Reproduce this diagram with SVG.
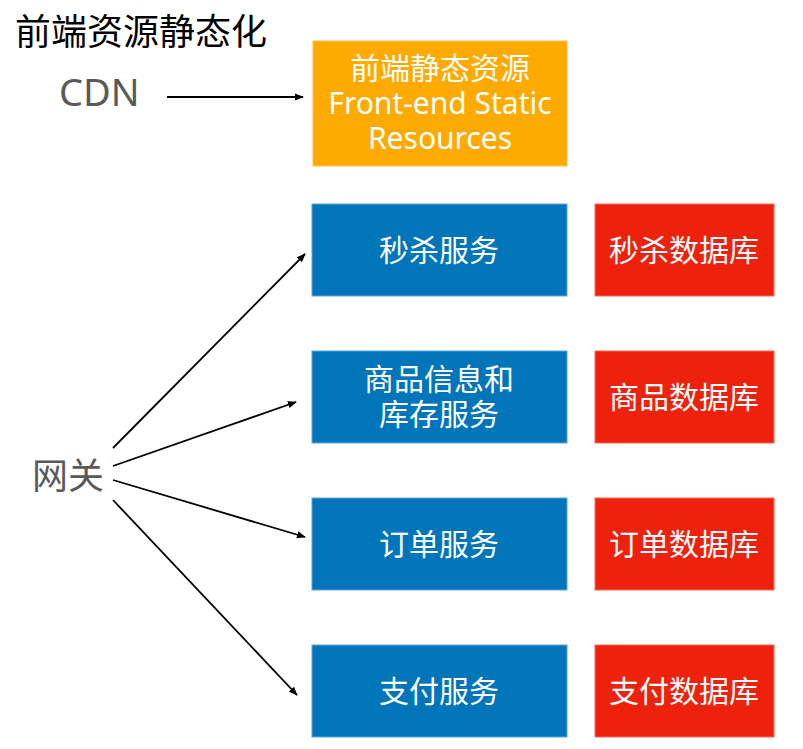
<svg xmlns="http://www.w3.org/2000/svg" width="803" height="749" viewBox="0 0 803 749">
<defs>
<style>
.lbl{font-family:"Noto Sans","Noto Sans CJK SC",sans-serif;}
.box{font-family:"Noto Sans","Noto Sans CJK SC",sans-serif;font-size:30px;fill:#fff;text-anchor:middle;}
.svc{fill:#0075B9;stroke:#5FA8D8;stroke-width:1;}
.db{fill:#EE220C;stroke:#F26A5A;stroke-width:1;}
.conn{stroke:#000;stroke-width:1.8;fill:none;marker-end:url(#ah);}
</style>
<marker id="ah" viewBox="0 0 10 10" refX="9" refY="5" markerWidth="5" markerHeight="5" orient="auto" markerUnits="strokeWidth">
<path d="M0,1 L10,5 L0,9 z" fill="#000"/>
</marker>
</defs>
<rect width="803" height="749" fill="#fff"/>
<g id="title"><text class="lbl" x="15" y="45" font-size="36" fill="#000">前端资源静态化</text></g>
<g id="cdn"><text class="lbl" x="59" y="106" font-size="38" fill="#595959">CDN</text></g>
<g id="gateway"><text class="lbl" x="32" y="489" font-size="36" fill="#595959">网关</text></g>
<g id="static">
<rect x="313" y="41" width="254" height="125" fill="#FFAA00" stroke="#FFC04D" stroke-width="1"/>
<text class="box" x="440" y="79">前端静态资源</text>
<text class="box" x="440" y="114">Front-end Static</text>
<text class="box" x="440" y="149">Resources</text>
</g>
<g id="svc1"><rect class="svc" x="312" y="204" width="255" height="92"/><text class="box" x="439" y="261">秒杀服务</text></g>
<g id="svc2"><rect class="svc" x="312" y="351" width="255" height="92"/><text class="box" x="439" y="390">商品信息和</text><text class="box" x="439" y="425">库存服务</text></g>
<g id="svc3"><rect class="svc" x="312" y="498" width="255" height="92"/><text class="box" x="439" y="555">订单服务</text></g>
<g id="svc4"><rect class="svc" x="312" y="645" width="255" height="92"/><text class="box" x="439" y="702">支付服务</text></g>
<g id="db1"><rect class="db" x="595" y="204" width="179" height="92"/><text class="box" x="684" y="261">秒杀数据库</text></g>
<g id="db2"><rect class="db" x="595" y="351" width="179" height="92"/><text class="box" x="684" y="408">商品数据库</text></g>
<g id="db3"><rect class="db" x="595" y="498" width="179" height="92"/><text class="box" x="684" y="555">订单数据库</text></g>
<g id="db4"><rect class="db" x="595" y="645" width="179" height="92"/><text class="box" x="684" y="702">支付数据库</text></g>
<g id="connectors">
<line class="conn" x1="167" y1="97" x2="303" y2="97"/>
<line class="conn" x1="113" y1="448" x2="305" y2="254"/>
<line class="conn" x1="113" y1="466" x2="296" y2="402"/>
<line class="conn" x1="113" y1="480" x2="305" y2="537"/>
<line class="conn" x1="113" y1="500" x2="297" y2="695"/>
</g>
</svg>
